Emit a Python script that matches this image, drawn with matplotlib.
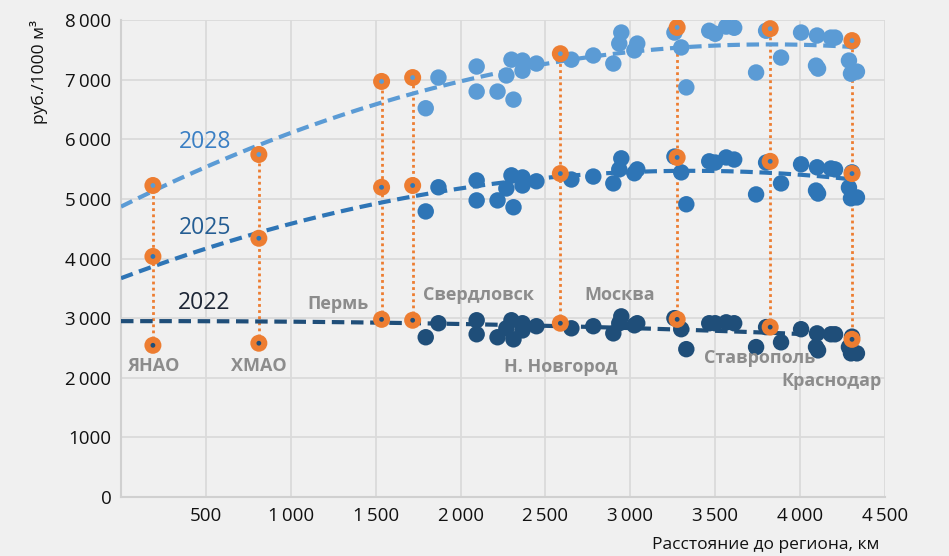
import numpy as np
import matplotlib.pyplot as plt

# distance to region, km (blue dots, all three years share them)
dist = [1795, 1870, 2095, 2095, 2218, 2312, 2270, 2300, 2365, 2365, 2447, 2653,
        2782, 2900, 2947, 2935, 3041, 3024, 3260, 3300, 3330, 3465, 3500, 3565,
        3612, 3741, 3800, 3888, 4006, 4100, 4094, 4106, 4182, 4206, 4306, 4288,
        4300, 4335]
v2028 = [6520, 7035, 7220, 6800, 6800, 6665, 7070, 7335, 7320, 7150, 7270, 7335,
         7405, 7270, 7790, 7605, 7605, 7490, 7790, 7540, 6870, 7820, 7770, 7890,
         7870, 7120, 7820, 7370, 7790, 7740, 7235, 7185, 7705, 7705, 7640, 7320,
         7100, 7135]
v2025 = [4790, 5195, 5310, 4975, 4975, 4860, 5175, 5395, 5360, 5225, 5295, 5325,
         5375, 5260, 5680, 5495, 5495, 5430, 5710, 5445, 4910, 5630, 5610, 5695,
         5660, 5075, 5610, 5260, 5580, 5530, 5140, 5090, 5510, 5495, 5445, 5190,
         5010, 5025]
v2022 = [2680, 2915, 2965, 2730, 2680, 2645, 2830, 2965, 2915, 2795, 2865, 2830,
         2865, 2745, 3030, 2915, 2915, 2880, 3000, 2815, 2480, 2915, 2915, 2930,
         2915, 2515, 2850, 2595, 2815, 2745, 2515, 2460, 2730, 2730, 2690, 2515,
         2410, 2410]

# highlighted regions
hl_names = ['ЯНАО', 'ХМАО', 'Пермь', 'Свердловск', 'Н. Новгород', 'Москва',
            'Ставрополь', 'Краснодар']
hl_dist = [188, 812, 1535, 1718, 2588, 3276, 3824, 4306]
hl_2028 = [5225, 5745, 6970, 7035, 7435, 7875, 7855, 7655]
hl_2025 = [4035, 4340, 5195, 5225, 5425, 5695, 5630, 5425]
hl_2022 = [2545, 2580, 2980, 2965, 2915, 2980, 2850, 2645]

# quadratic trend lines, read as three points each off the picture
trend_x = {'2028': [0, 1170, 3300], '2025': [0, 1535, 4300], '2022': [0, 2600, 4300]}
trend_y = {'2028': [4870, 6280, 7540], '2025': [3670, 4940, 5330], '2022': [2950, 2865, 2700]}

y_ticks = [0, 1000, 2000, 3000, 4000, 5000, 6000, 7000, 8000]
y_labels = ['0', '1000', '2\u2009000', '3\u2009000', '4\u2009000', '5\u2009000',
            '6\u2009000', '7\u2009000', '8\u2009000']
x_ticks = [0, 500, 1000, 1500, 2000, 2500, 3000, 3500, 4000, 4500]
x_labels = ['', '500', '1\u2009000', '1\u2009500', '2\u2009000', '2\u2009500',
            '3\u2009000', '3\u2009500', '4\u2009000', '4\u2009500']

plt.rcParams['font.family'] = ['Open Sans', 'DejaVu Sans']

BG = '#f0f0f0'
GRID = '#dadada'
ORANGE = '#ed7d31'
GREY = '#8c8c8c'
series = [
    ('2028', v2028, hl_2028, '#5b9bd5', '#3a7fc4', (494, 5946)),
    ('2025', v2025, hl_2025, '#2e75b6', '#245d93', (494, 4506)),
    ('2022', v2022, hl_2022, '#1f4e79', '#1c2535', (488, 3250)),
]

fig = plt.figure(figsize=(9.49, 5.56), dpi=100, facecolor=BG)
ax = fig.add_axes([0.1275, 0.106, 0.805, 0.858], facecolor=BG)

# dotted verticals connecting highlighted regions
for x, top, bot in zip(hl_dist, hl_2028, hl_2022):
    ax.plot([x, x], [bot, top], color=ORANGE, lw=2, ls=(0, (1, 1.2)), zorder=2)

xs = np.linspace(0, 4310, 200)
for name, vals, hl, col, txt_col, lab_pos in series:
    ax.scatter(dist, vals, s=140, color=col, edgecolors='none', zorder=3)
    coef = np.polyfit(trend_x[name], trend_y[name], 2)
    ax.plot(xs, np.polyval(coef, xs), color=col, lw=3, ls=(0, (3, 1.6)), zorder=4)
    ax.scatter(hl_dist, hl, s=150, color=ORANGE, edgecolors='none', zorder=5)
    ax.scatter(hl_dist, hl, s=12, color=col, edgecolors='none', zorder=6)
    ax.text(lab_pos[0], lab_pos[1], name, color=txt_col, fontsize=16.5,
            ha='center', va='center', zorder=7)

label_pos = [(188, 2194), (812, 2194), (1276, 3233), (2106, 3384), (2588, 2178),
             (2935, 3384), (3759, 2328), (4188, 1943)]
for name, (lx, ly) in zip(hl_names, label_pos):
    ax.text(lx, ly, name, color=GREY, fontsize=13, fontweight='bold',
            ha='center', va='center', zorder=7)

ax.set_xlim(0, 4500)
ax.set_ylim(0, 8000)
ax.set_xticks(x_ticks)
ax.set_xticklabels(x_labels)
ax.set_yticks(y_ticks)
ax.set_yticklabels(y_labels)
ax.tick_params(length=0, labelsize=13.5, colors='#111111', pad=7)
ax.grid(True, color=GRID, lw=1.3, zorder=0)
ax.set_axisbelow(True)
for side in ['top', 'right']:
    ax.spines[side].set_visible(False)
for side in ['left', 'bottom']:
    ax.spines[side].set_color('#d0d0d0')
    ax.spines[side].set_linewidth(1.5)

ax.set_xlabel('Расстояние до региона, км', fontsize=12.5, color='#111111')
ax.xaxis.set_label_coords(0.844, -0.083)
ax.set_ylabel('руб./1000 м³', fontsize=12.5, color='#111111')
ax.yaxis.set_label_coords(-0.095, 0.89)

fig.savefig('out.png', dpi=100, facecolor=BG)
